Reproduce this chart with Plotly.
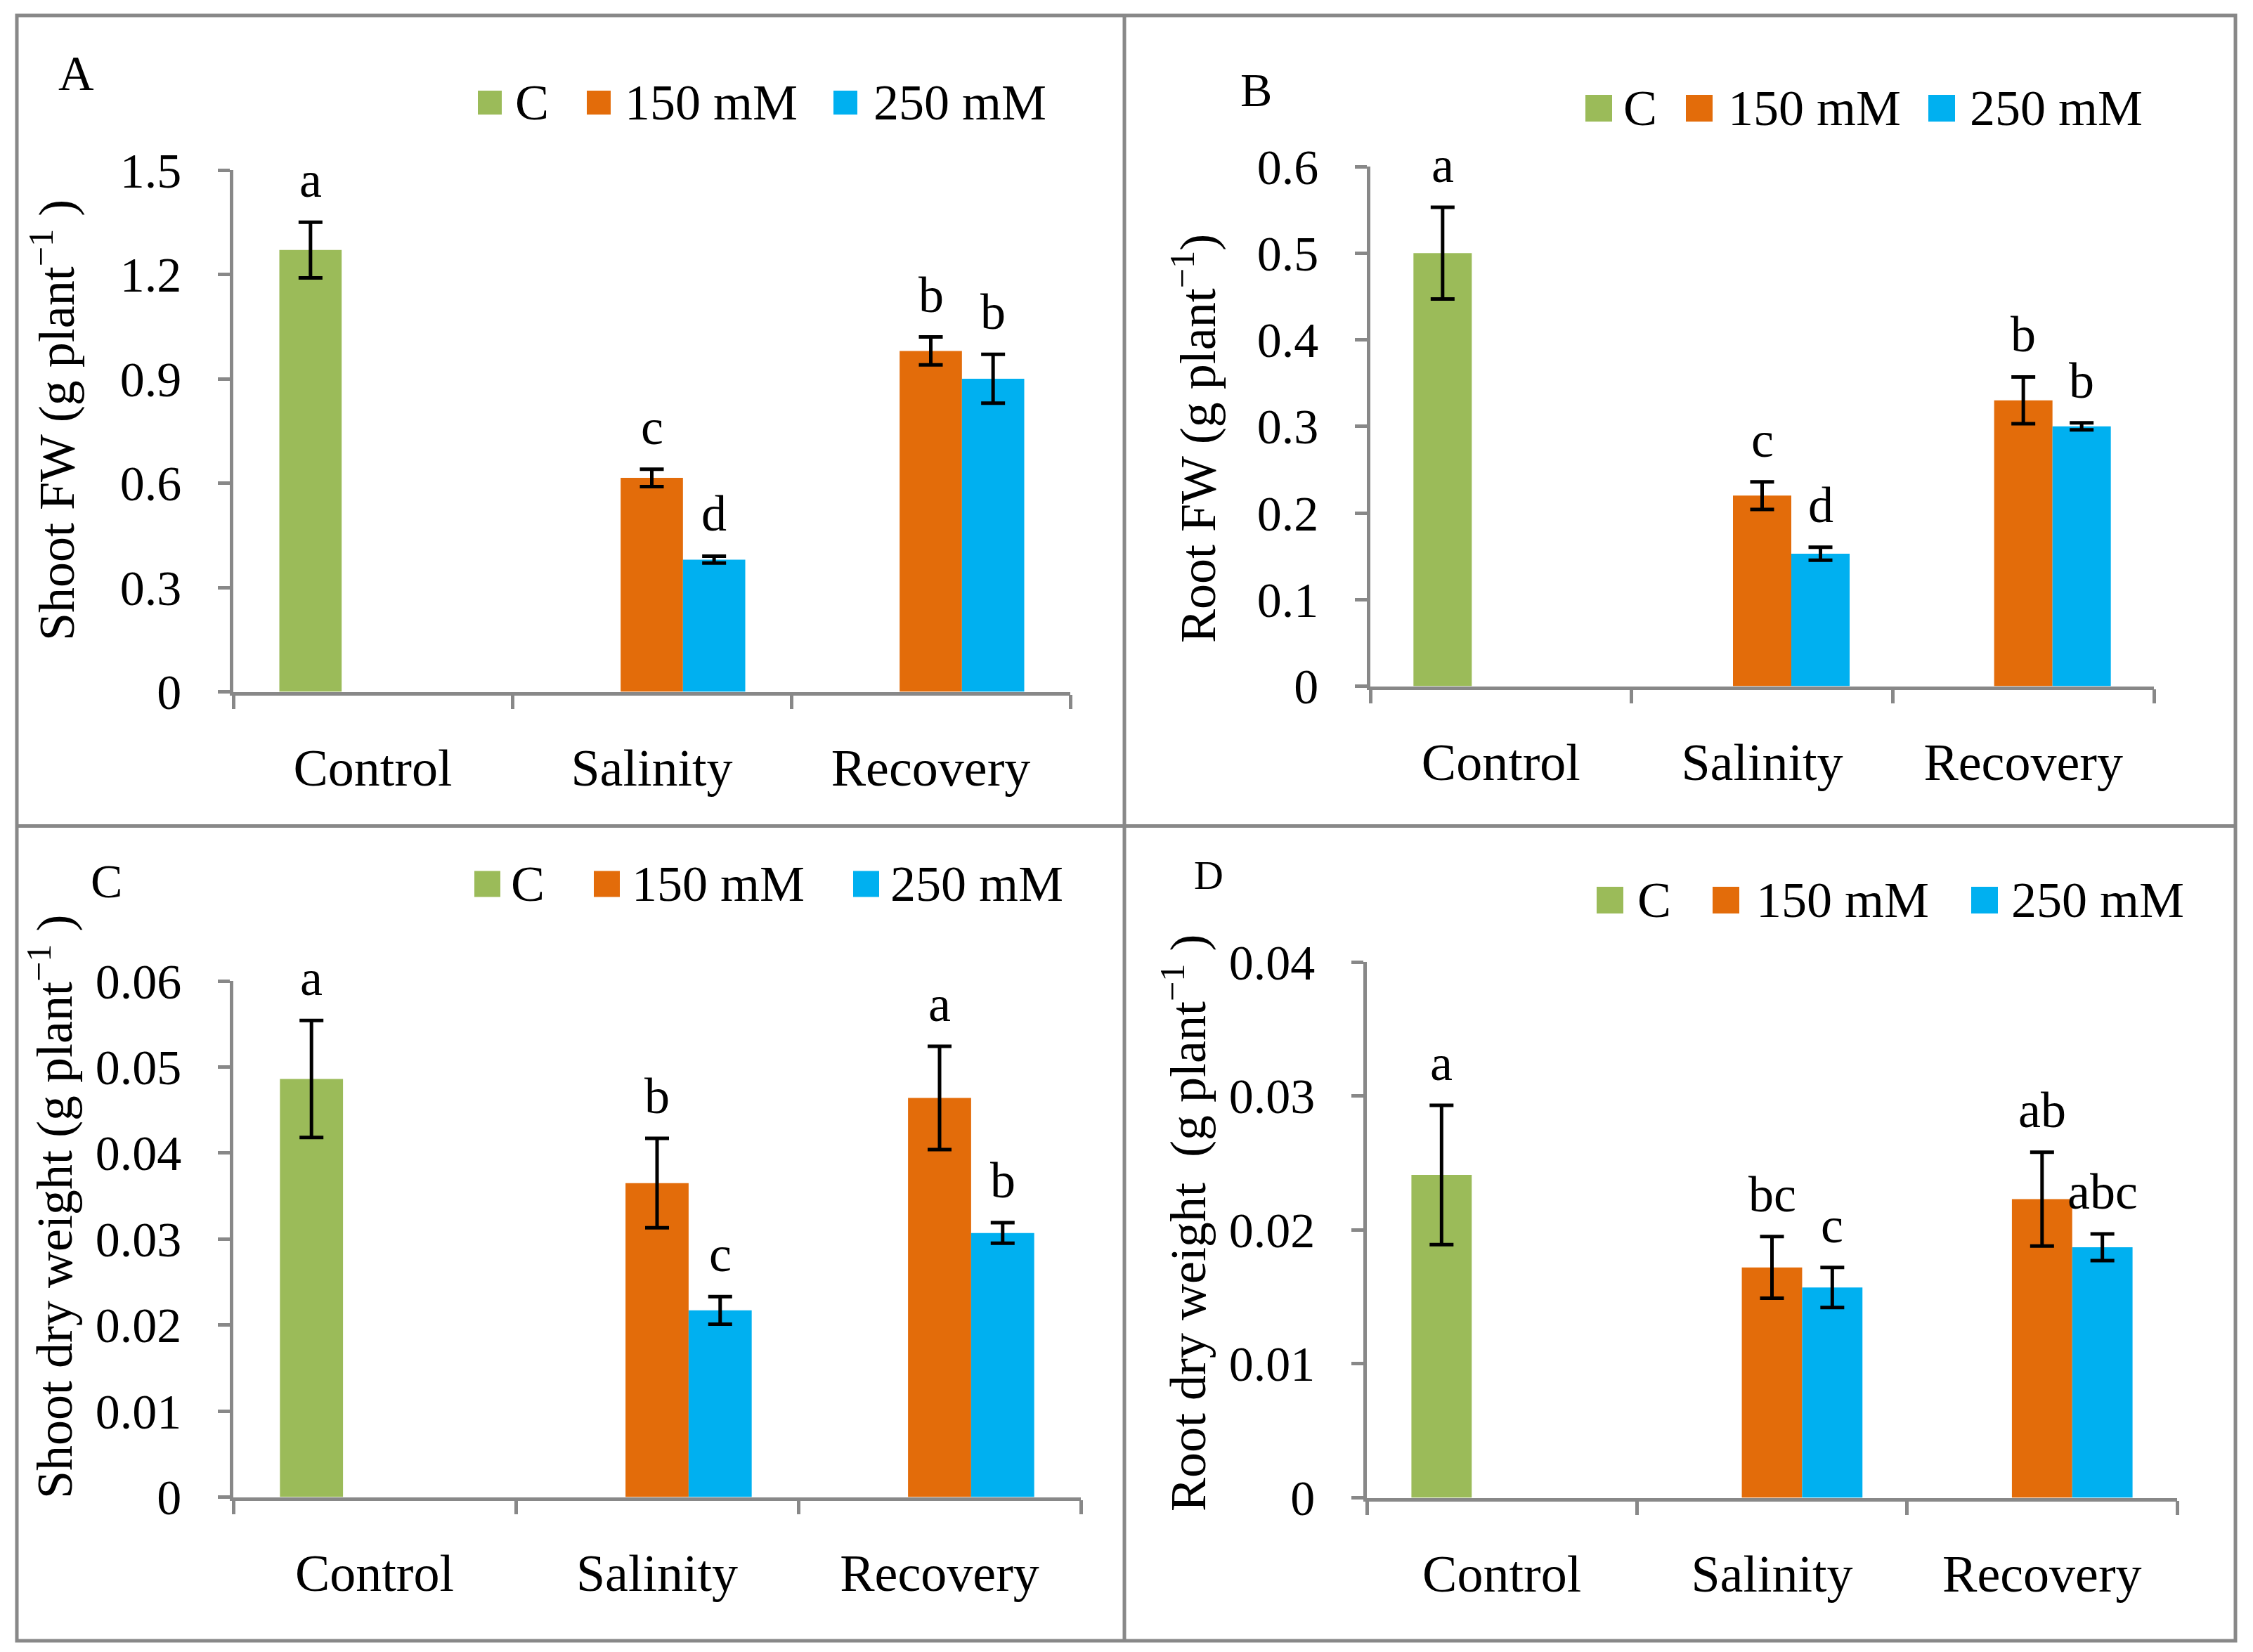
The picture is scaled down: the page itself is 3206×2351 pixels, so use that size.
import plotly.graph_objects as go

# ---------------- data ----------------
categories = ["Control", "Salinity", "Recovery"]
series_names = ["C", "150 mM", "250 mM"]

# Panel A: Shoot FW
A_C = [1.27, None, None]
A_C_err = [0.08, None, None]
A_150 = [None, 0.615, 0.98]
A_150_err = [None, 0.025, 0.04]
A_250 = [None, 0.38, 0.90]
A_250_err = [None, 0.01, 0.07]
A_letters_C = ["a", None, None]
A_letters_150 = [None, "c", "b"]
A_letters_250 = [None, "d", "b"]
A_ticks = [0, 0.3, 0.6, 0.9, 1.2, 1.5]
A_ticktext = ["0", "0.3", "0.6", "0.9", "1.2", "1.5"]

# Panel B: Root FW
B_C = [0.50, None, None]
B_C_err = [0.053, None, None]
B_150 = [None, 0.22, 0.33]
B_150_err = [None, 0.016, 0.027]
B_250 = [None, 0.153, 0.30]
B_250_err = [None, 0.0075, 0.004]
B_letters_C = ["a", None, None]
B_letters_150 = [None, "c", "b"]
B_letters_250 = [None, "d", "b"]
B_ticks = [0, 0.1, 0.2, 0.3, 0.4, 0.5, 0.6]
B_ticktext = ["0", "0.1", "0.2", "0.3", "0.4", "0.5", "0.6"]

# Panel C: Shoot dry weight
C_C = [0.0486, None, None]
C_C_err = [0.0068, None, None]
C_150 = [None, 0.0365, 0.0464]
C_150_err = [None, 0.0052, 0.0060]
C_250 = [None, 0.0217, 0.0307]
C_250_err = [None, 0.0016, 0.0012]
C_letters_C = ["a", None, None]
C_letters_150 = [None, "b", "a"]
C_letters_250 = [None, "c", "b"]
C_ticks = [0, 0.01, 0.02, 0.03, 0.04, 0.05, 0.06]
C_ticktext = ["0", "0.01", "0.02", "0.03", "0.04", "0.05", "0.06"]

# Panel D: Root dry weight
D_C = [0.0241, None, None]
D_C_err = [0.0052, None, None]
D_150 = [None, 0.0172, 0.0223]
D_150_err = [None, 0.0023, 0.0035]
D_250 = [None, 0.0157, 0.0187]
D_250_err = [None, 0.0015, 0.0010]
D_letters_C = ["a", None, None]
D_letters_150 = [None, "bc", "ab"]
D_letters_250 = [None, "c", "abc"]
D_ticks = [0, 0.01, 0.02, 0.03, 0.04]
D_ticktext = ["0", "0.01", "0.02", "0.03", "0.04"]

y_titles = {
    "A": "Shoot FW (g plant<sup>\u22121</sup> )",
    "B": "Root FW (g plant<sup>\u22121</sup>)",
    "C": "Shoot dry weight (g plant<sup>\u22121</sup> )",
    "D": "Root dry weight  (g plant<sup>\u22121</sup> )",
}

colors = ["#9BBB59", "#E36C0A", "#00B0F0"]

# ---------------- layout geometry (pixels) ----------------
W, H = 3206, 2351
FONT = "Liberation Serif"
GRAY = "#888888"
BARGAP = 0.33

panels = [
    dict(key="A", vals=[A_C, A_150, A_250], errs=[A_C_err, A_150_err, A_250_err],
         letters=[A_letters_C, A_letters_150, A_letters_250], ticks=A_ticks, ticktext=A_ticktext,
         rng=[0, 1.5], x0=332, x1=1523, ytop=242, ybot=984.5,
         title_xy=(76, 598), tag_xy=(108, 104), tag_size=70,
         legend=dict(yc=146, sq=34, items=[(680, 734), (835, 890), (1186, 1244)])),
    dict(key="B", vals=[B_C, B_150, B_250], errs=[B_C_err, B_150_err, B_250_err],
         letters=[B_letters_C, B_letters_150, B_letters_250], ticks=B_ticks, ticktext=B_ticktext,
         rng=[0, 0.6], x0=1950, x1=3065, ytop=237, ybot=976.5,
         title_xy=(1699, 624), tag_xy=(1787, 128), tag_size=68,
         legend=dict(yc=154, sq=38, items=[(2256, 2311), (2399, 2460), (2744, 2804)])),
    dict(key="C", vals=[C_C, C_150, C_250], errs=[C_C_err, C_150_err, C_250_err],
         letters=[C_letters_C, C_letters_150, C_letters_250], ticks=C_ticks, ticktext=C_ticktext,
         rng=[0, 0.06], x0=332, x1=1538, ytop=1396, ybot=2130.5,
         title_xy=(72, 1717), tag_xy=(151, 1254), tag_size=68,
         legend=dict(yc=1258, sq=37, items=[(675, 728), (845, 900), (1214, 1268)])),
    dict(key="D", vals=[D_C, D_150, D_250], errs=[D_C_err, D_150_err, D_250_err],
         letters=[D_letters_C, D_letters_150, D_letters_250], ticks=D_ticks, ticktext=D_ticktext,
         rng=[0, 0.04], x0=1945, x1=3098, ytop=1369, ybot=2131.5,
         title_xy=(1685, 1740), tag_xy=(1720, 1245), tag_size=58,
         legend=dict(yc=1281, sq=38, items=[(2272, 2331), (2437, 2500), (2805, 2863)])),
]


def px(x):
    return x / W


def py(y):
    return 1 - y / H


fig = go.Figure()
annotations = []
shapes = []
layout_axes = {}

slot_w = (1 - BARGAP) / 3

for i, p in enumerate(panels, start=1):
    xa = "x" if i == 1 else f"x{i}"
    ya = "y" if i == 1 else f"y{i}"
    xkey = "xaxis" if i == 1 else f"xaxis{i}"
    ykey = "yaxis" if i == 1 else f"yaxis{i}"

    for s in range(3):
        fig.add_trace(go.Bar(
            x=categories, y=p["vals"][s], name=series_names[s],
            marker=dict(color=colors[s], line=dict(width=0)),
            error_y=dict(type="data", array=p["errs"][s], visible=True,
                         color="black", thickness=5, width=17),
            xaxis=xa, yaxis=ya, showlegend=False,
        ))
        # significance letters
        for c in range(3):
            lab = p["letters"][s][c]
            if lab is None:
                continue
            top = p["vals"][s][c] + p["errs"][s][c]
            annotations.append(dict(
                x=c + (s - 1) * slot_w, y=top, xref=xa, yref=ya,
                text=lab, showarrow=False, yanchor="bottom", xanchor="center",
                yshift=18, font=dict(family=FONT, size=72, color="black")))

    layout_axes[xkey] = dict(
        domain=[px(p["x0"]), px(p["x1"])], anchor=ya,
        type="category", range=[-0.5, 2.5], automargin=False,
        showline=True, linecolor=GRAY, linewidth=4.5,
        ticks="outside", tickson="boundaries", ticklen=20, tickwidth=4.5, tickcolor=GRAY,
        showgrid=False, zeroline=False,
        tickfont=dict(family=FONT, size=74, color="black"),
        ticklabelstandoff=40,
    )
    layout_axes[ykey] = dict(
        domain=[py(p["ybot"]), py(p["ytop"])], anchor=xa, automargin=False,
        range=p["rng"], tickvals=p["ticks"], ticktext=p["ticktext"],
        showline=True, linecolor=GRAY, linewidth=4.5,
        ticks="outside", ticklen=17, tickwidth=4.5, tickcolor=GRAY,
        showgrid=False, zeroline=False,
        tickfont=dict(family=FONT, size=70, color="black"),
        ticklabelstandoff=38,
    )

    # y-axis title
    tx, ty = p["title_xy"]
    annotations.append(dict(
        x=px(tx), y=py(ty), xref="paper", yref="paper", text=y_titles[p["key"]],
        textangle=-90, showarrow=False, xanchor="center", yanchor="middle",
        font=dict(family=FONT, size=72, color="black")))

    # panel tag
    gx, gy = p["tag_xy"]
    annotations.append(dict(
        x=px(gx), y=py(gy), xref="paper", yref="paper", text=p["key"],
        showarrow=False, xanchor="center", yanchor="middle",
        font=dict(family=FONT, size=p["tag_size"], color="black")))

    # legend (drawn manually, big square swatches)
    lg = p["legend"]
    for s, (sqx, txx) in enumerate(lg["items"]):
        h = lg["sq"] / 2
        shapes.append(dict(type="rect", xref="paper", yref="paper",
                           x0=px(sqx), x1=px(sqx + lg["sq"]),
                           y0=py(lg["yc"] + h), y1=py(lg["yc"] - h),
                           fillcolor=colors[s], line=dict(width=0)))
        annotations.append(dict(
            x=px(txx - 3), y=py(lg["yc"]), xref="paper", yref="paper",
            text=series_names[s], showarrow=False, xanchor="left", yanchor="middle",
            font=dict(family=FONT, size=72, color="black")))

# outer frame and dividers
frame = dict(color=GRAY, width=5)
shapes.append(dict(type="rect", xref="paper", yref="paper",
                   x0=px(24), x1=px(3181), y0=py(2335), y1=py(22), line=frame))
shapes.append(dict(type="line", xref="paper", yref="paper",
                   x0=px(1600), x1=px(1600), y0=py(2335), y1=py(22), line=frame))
shapes.append(dict(type="line", xref="paper", yref="paper",
                   x0=px(24), x1=px(3181), y0=py(1175.5), y1=py(1175.5), line=frame))

fig.update_layout(
    width=W, height=H, autosize=False,
    margin=dict(l=0, r=0, t=0, b=0, pad=0, autoexpand=False),
    paper_bgcolor="white", plot_bgcolor="white",
    barmode="group", bargap=BARGAP, bargroupgap=0,
    showlegend=False,
    font=dict(family=FONT, color="black"),
    annotations=annotations, shapes=shapes,
    **layout_axes,
)

fig.write_html("out.html", config={"displayModeBar": False},
               post_script="document.body.style.margin='0px';")
